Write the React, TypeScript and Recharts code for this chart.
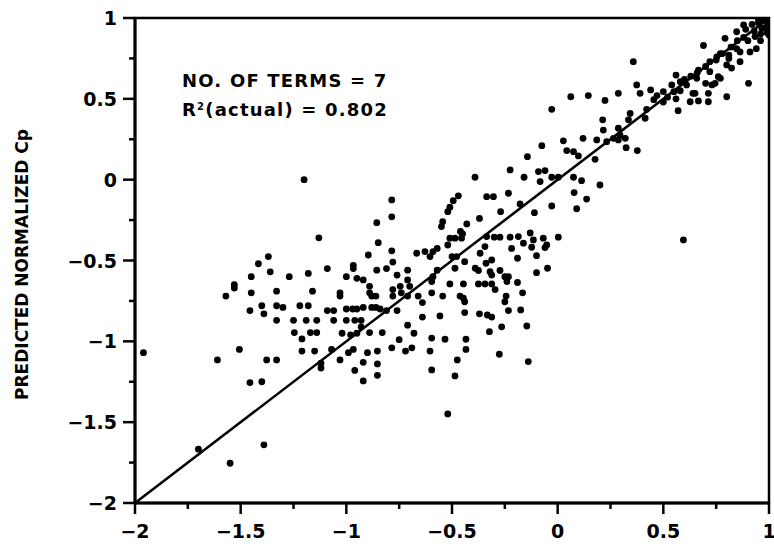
import React from "react";
import {
  ScatterChart,
  Scatter,
  XAxis,
  YAxis,
  ReferenceLine,
  ReferenceArea,
} from "recharts";

// [actual Cp, predicted Cp] pairs
const leftCluster: [number, number][] = [
  [-1.96, -1.07], [-1.2, 0.0], [-0.785, -0.125], [-0.785, -0.23], [-0.856, -0.266],
  [-1.13, -0.36], [-0.849, -0.39], [-0.785, -0.44], [-0.896, -0.466], [-1.369, -0.476],
  [-1.416, -0.52], [-1.53, -0.65], [-1.53, -0.67], [-1.57, -0.72], [-1.45, -0.6],
  [-1.36, -0.57], [-1.27, -0.6], [-1.18, -0.58], [-1.09, -0.55], [-0.967, -0.53],
  [-0.967, -0.55], [-1.0, -0.6], [-0.95, -0.61], [-0.92, -0.62], [-0.89, -0.66],
  [-0.856, -0.56], [-0.81, -0.55], [-0.78, -0.51], [-0.76, -0.59], [-0.71, -0.56],
  [-0.71, -0.62], [-0.667, -0.455], [-0.628, -0.445], [-1.45, -0.7], [-1.456, -0.81],
  [-1.4, -0.78], [-1.39, -0.83], [-1.33, -0.69], [-1.33, -0.78], [-1.3, -0.79],
  [-1.33, -0.87], [-1.25, -0.87], [-1.22, -0.78], [-1.18, -0.78], [-1.16, -0.69],
  [-1.19, -0.87], [-1.14, -0.87], [-1.246, -0.946], [-1.21, -0.985], [-1.17, -0.946],
  [-1.14, -0.946], [-1.09, -0.81], [-1.06, -0.81], [-1.06, -0.87], [-1.03, -0.7],
  [-1.03, -0.72], [-1.0, -0.8], [-0.97, -0.8], [-0.95, -0.8], [-1.0, -0.87],
  [-0.96, -0.87], [-1.02, -0.95], [-0.98, -0.96], [-0.92, -0.79], [-0.88, -0.79],
  [-0.86, -0.79], [-0.89, -0.7], [-0.88, -0.72], [-0.86, -0.72], [-0.93, -0.87],
  [-0.93, -0.91], [-0.95, -0.95], [-0.89, -0.946], [-0.83, -0.946], [-0.84, -0.8],
  [-0.81, -0.81], [-0.78, -0.72], [-0.78, -0.68], [-0.74, -0.7], [-0.76, -0.81],
  [-0.745, -0.66], [-0.71, -0.72], [-0.7, -0.66], [-0.66, -0.72], [-0.64, -0.76],
  [-0.64, -0.85], [-0.71, -0.9], [-0.68, -0.95], [-0.75, -0.99], [-0.69, -1.04],
  [-0.72, -1.06], [-0.785, -1.04], [-0.853, -1.06], [-0.9, -1.07], [-0.853, -1.14],
  [-0.853, -1.21], [-0.92, -1.13], [-0.96, -1.18], [-0.92, -1.245], [-0.967, -1.05],
  [-0.99, -1.07], [-1.03, -1.115], [-1.07, -1.05], [-1.12, -1.135], [-1.12, -1.165],
  [-1.15, -1.06], [-1.21, -1.06], [-1.33, -1.115], [-1.377, -1.115], [-1.506, -1.05],
  [-1.61, -1.115], [-1.456, -1.255], [-1.4, -1.25], [-1.39, -1.64], [-1.7, -1.667],
  [-1.55, -1.754], [-0.52, -1.449],
];

const centreCluster: [number, number][] = [
  [-0.391, 0.015], [-0.225, 0.06], [-0.143, 0.142], [-0.075, 0.21], [0.027, 0.24],
  [0.12, 0.256], [0.043, 0.18], [0.075, 0.173], [0.098, 0.147], [0.177, 0.126],
  [-0.091, 0.05], [-0.06, 0.056], [-0.083, -0.012], [-0.159, 0.015], [-0.028, 0.015],
  [0.003, 0.015], [0.075, 0.015], [0.113, -0.006], [0.2, -0.033], [0.078, -0.08],
  [0.137, -0.12], [0.09, -0.18], [-0.028, -0.163], [-0.11, -0.204], [-0.178, -0.15],
  [-0.233, -0.084], [-0.336, -0.105], [-0.304, -0.105], [-0.27, -0.198], [-0.37, -0.24],
  [-0.47, -0.1], [-0.494, -0.13], [-0.51, -0.17], [-0.52, -0.198], [-0.544, -0.26],
  [-0.55, -0.29], [-0.43, -0.274], [-0.46, -0.32], [-0.45, -0.335], [-0.51, -0.362],
  [-0.486, -0.362], [-0.455, -0.362], [-0.52, -0.404], [-0.57, -0.425], [-0.59, -0.445],
  [-0.604, -0.476], [-0.5, -0.476], [-0.478, -0.476], [-0.336, -0.352], [-0.3, -0.356],
  [-0.273, -0.356], [-0.225, -0.356], [-0.186, -0.352], [-0.344, -0.414], [-0.367, -0.455],
  [-0.218, -0.425], [-0.13, -0.33], [-0.115, -0.373], [-0.162, -0.393], [-0.123, -0.418],
  [-0.068, -0.362], [-0.052, -0.404], [-0.06, -0.42], [0.003, -0.356], [-0.19, -0.486],
  [-0.1, -0.47], [-0.1, -0.575], [-0.048, -0.548], [-0.312, -0.497], [-0.339, -0.517],
  [-0.44, -0.507], [-0.486, -0.548], [-0.39, -0.548], [-0.375, -0.562], [-0.32, -0.569],
  [-0.312, -0.59], [-0.273, -0.562], [-0.25, -0.6], [-0.233, -0.6], [-0.24, -0.63],
  [-0.19, -0.636], [-0.57, -0.56], [-0.59, -0.6], [-0.596, -0.63], [-0.51, -0.645],
  [-0.446, -0.645], [-0.375, -0.645], [-0.344, -0.645], [-0.312, -0.645], [-0.296, -0.68],
  [-0.166, -0.7], [-0.596, -0.7], [-0.544, -0.72], [-0.462, -0.72], [-0.446, -0.733],
  [-0.44, -0.755], [-0.244, -0.72], [-0.25, -0.755], [-0.175, -0.806], [-0.233, -0.81],
  [-0.557, -0.843], [-0.44, -0.822], [-0.37, -0.83], [-0.333, -0.837], [-0.312, -0.85],
  [-0.265, -0.91], [-0.146, -0.905], [-0.323, -0.94], [-0.596, -0.98], [-0.533, -0.987],
  [-0.434, -0.987], [-0.604, -1.06], [-0.434, -1.05], [-0.276, -1.08], [-0.475, -1.115],
  [-0.139, -1.125], [-0.596, -1.177], [-0.486, -1.214],
];

const upperCluster: [number, number][] = [
  [-0.028, 0.435], [0.062, 0.513], [0.145, 0.52], [0.224, 0.49], [0.287, 0.534],
  [0.374, 0.586], [0.39, 0.534], [0.44, 0.555], [0.47, 0.52], [0.5, 0.545],
  [0.52, 0.51], [0.5, 0.48], [0.455, 0.495], [0.54, 0.586], [0.58, 0.55],
  [0.56, 0.5], [0.64, 0.534], [0.627, 0.482], [0.57, 0.427], [0.421, 0.435],
  [0.414, 0.38], [0.343, 0.41], [0.335, 0.37], [0.377, 0.18], [0.213, 0.37],
  [0.216, 0.307], [0.287, 0.318], [0.295, 0.276], [0.32, 0.256], [0.287, 0.246],
  [0.324, 0.198], [0.185, 0.246], [0.232, 0.235], [0.264, 0.256], [0.595, -0.373],
  [0.358, 0.73], [0.69, 0.83], [0.792, 0.874], [0.903, 0.596], [0.56, 0.647],
  [0.666, 0.678], [0.658, 0.627], [0.7, 0.596], [0.73, 0.586], [0.745, 0.596],
  [0.77, 0.627], [0.713, 0.482], [0.713, 0.534], [0.8, 0.513], [0.61, 0.586],
  [0.58, 0.606], [0.666, 0.487], [0.65, 0.534], [0.55, 0.544], [0.753, 0.76],
  [0.77, 0.78], [0.8, 0.71], [0.81, 0.77], [0.847, 0.81], [0.863, 0.79],
  [0.6, 0.62], [0.63, 0.64], [0.66, 0.66], [0.7, 0.7], [0.72, 0.73],
  [0.75, 0.74], [0.78, 0.78], [0.82, 0.82], [0.85, 0.86], [0.88, 0.88],
];

const cornerCluster: [number, number][] = [
  [0.847, 0.915], [0.88, 0.957], [0.89, 0.93], [0.934, 0.885], [0.966, 0.936],
  [0.99, 0.977], [1.0, 0.895], [0.94, 0.81], [0.91, 0.79], [0.863, 0.73],
  [0.823, 0.69], [0.72, 0.668], [0.76, 0.637], [0.81, 0.75], [0.92, 0.96],
  [0.95, 0.97], [0.97, 0.99], [0.93, 0.92], [0.96, 0.9], [0.98, 0.94],
  [1.0, 0.97], [0.99, 0.91], [0.96, 0.86], [0.9, 0.86], [0.95, 0.99],
];

const axisTicks = [-2, -1.75, -1.5, -1.25, -1, -0.75, -0.5, -0.25, 0, 0.25, 0.5, 0.75, 1];
const perfectFit = [
  { x: -2, y: -2 },
  { x: 1, y: 1 },
];

const points = [...leftCluster, ...centreCluster, ...upperCluster, ...cornerCluster].map(
  ([actual, predicted]) => ({ actual, predicted })
);

const FONT = "'DejaVu Sans', sans-serif";

const isMajor = (v: number) => Math.abs(v * 2 - Math.round(v * 2)) < 1e-6;
const fmt = (v: number) => (v < 0 ? `\u2212${Math.abs(v)}` : `${v}`);

const XTick = ({ x, y, payload }: any) => {
  const major = isMajor(payload.value);
  return (
    <g>
      <line x1={x} x2={x} y1={y} y2={y + (major ? 11 : 6)} stroke="#000" strokeWidth={2.5} />
      {major && (
        <text x={x} y={y + 35} textAnchor="middle" fontFamily={FONT} fontWeight="bold" fontSize={19} fill="#000">
          {fmt(payload.value)}
        </text>
      )}
    </g>
  );
};

const YTick = ({ x, y, payload }: any) => {
  const major = isMajor(payload.value);
  return (
    <g>
      <line x1={x - (major ? 12 : 6)} x2={x} y1={y} y2={y} stroke="#000" strokeWidth={2.5} />
      {major && (
        <text x={x - 18} y={y + 7} textAnchor="end" fontFamily={FONT} fontWeight="bold" fontSize={19} fill="#000">
          {fmt(payload.value)}
        </text>
      )}
    </g>
  );
};

const YLabel = ({ viewBox }: any) => {
  const cx = viewBox.x + 22;
  const cy = viewBox.y + viewBox.height / 2 + 4;
  return (
    <text
      x={cx}
      y={cy}
      transform={`rotate(-90 ${cx} ${cy})`}
      textAnchor="middle"
      dominantBaseline="central"
      fontFamily={FONT}
      fontWeight="bold"
      fontSize={17}
      fill="#000"
    >
      PREDICTED NORMALIZED Cp
    </text>
  );
};

const Dot = ({ cx, cy }: any) => <circle cx={cx} cy={cy} r={3.4} fill="#000" />;

export default function App() {
  return (
    <div style={{ position: "absolute", left: 0, top: 0, width: 774, height: 554, background: "#fff" }}>
      <ScatterChart width={774} height={554} margin={{ top: 18, right: 5, bottom: 0, left: 0 }}>
        <XAxis
          type="number"
          dataKey="actual"
          domain={[-2, 1]}
          ticks={axisTicks}
          interval={0}
          height={51}
          tickSize={0}
          tickMargin={0}
          tickLine={false}
          tick={<XTick />}
          axisLine={{ stroke: "#000", strokeWidth: 3 }}
          allowDataOverflow
        />
        <YAxis
          type="number"
          dataKey="predicted"
          domain={[-2, 1]}
          ticks={axisTicks}
          interval={0}
          width={135}
          tickSize={0}
          tickMargin={0}
          tickLine={false}
          tick={<YTick />}
          axisLine={{ stroke: "#000", strokeWidth: 3 }}
          label={{ content: <YLabel /> }}
          allowDataOverflow
        />
        <ReferenceArea
          x1={-2}
          x2={1}
          y1={-2}
          y2={1}
          fill="none"
          stroke="#000"
          strokeWidth={2.5}
          ifOverflow="visible"
        />
        <ReferenceLine segment={perfectFit} stroke="#000" strokeWidth={2.5} ifOverflow="visible" />
        <Scatter data={points} shape={<Dot />} isAnimationActive={false} />
      </ScatterChart>
      <div
        style={{
          position: "absolute",
          left: 182,
          top: 68,
          fontFamily: FONT,
          fontWeight: "bold",
          fontSize: 18,
          letterSpacing: 1.2,
          lineHeight: "26px",
          color: "#000",
          whiteSpace: "pre",
        }}
      >
        <div>NO. OF TERMS = 7</div>
        <div>
          R<sup style={{ fontSize: 10, verticalAlign: 6 }}>2</sup>(actual) = 0.802
        </div>
      </div>
    </div>
  );
}
